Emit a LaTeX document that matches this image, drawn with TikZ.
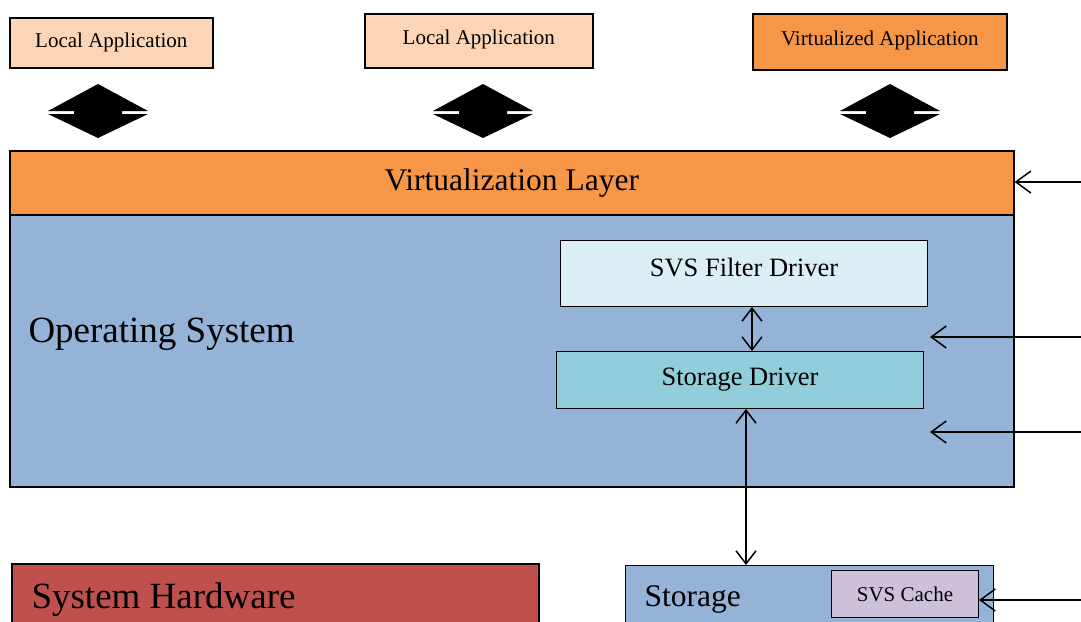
\documentclass[tikz,border=0pt]{standalone}
\usepackage{fontspec}
\setmainfont{Liberation Serif}
\usepackage{xcolor}
\usetikzlibrary{arrows.meta}
\definecolor{appfill}{HTML}{FBD5B5}
\definecolor{virtfill}{HTML}{F79646}
\definecolor{osfill}{HTML}{95B3D7}
\definecolor{filterfill}{HTML}{DBEEF3}
\definecolor{drvfill}{HTML}{92CDDC}
\definecolor{cachefill}{HTML}{CCC0DA}
\definecolor{hwfill}{HTML}{C0504D}
\tikzset{
  box/.style={draw, line width=1.6pt, inner sep=0pt, anchor=north west},
  thinbox/.style={draw, line width=1pt, inner sep=0pt, anchor=north west},
  small/.style={font=\fontsize{21}{25}\selectfont},
  mid/.style={font=\fontsize{26.5}{31}\selectfont},
  big/.style={font=\fontsize{31.5}{37}\selectfont},
  huge/.style={font=\fontsize{37}{44}\selectfont},
  link/.style={line width=1.5pt, {Straight Barb[length=13pt,width=20pt]}-{Straight Barb[length=13pt,width=20pt]}},
  feed/.style={line width=1.5pt, -{Straight Barb[length=15pt,width=22pt]}}
}
\begin{document}
\begin{tikzpicture}[x=1pt,y=-1pt]
\useasboundingbox (0,0) rectangle (1081,621);
\clip (0,0) rectangle (1081,621);

% Applications
\node[box, small, fill=appfill, minimum width=203, minimum height=50] (locA) at (9,17) {Local Application};
\node[box, small, fill=appfill, minimum width=228, minimum height=54, text depth=8pt] (locB) at (364,13) {Local Application};
\node[box, small, fill=virtfill, minimum width=254, minimum height=56, text depth=8pt] (virtA) at (752,13) {Virtualized Application};

% Block arrows between applications and layer
\foreach \cx in {98,483,890}
  \fill (\cx,84) -- (\cx+50,111) -- (\cx+24,111) -- (\cx+24,114) -- (\cx+50,114)
    -- (\cx,138) -- (\cx-50,114) -- (\cx-24,114) -- (\cx-24,111) -- (\cx-50,111) -- cycle;

% Layers
\node[box, fill=osfill, minimum width=1004, minimum height=272] (os) at (9,214) {};
\node[box, big, fill=virtfill, minimum width=1004, minimum height=64] (layer) at (9,150) {Virtualization Layer};
\node[huge, anchor=west] (oslabel) at (25,334) {Operating System};

% Drivers
\node[thinbox, mid, fill=filterfill, minimum width=367, minimum height=66, text depth=12pt] (filter) at (560,240) {SVS Filter Driver};
\node[thinbox, mid, fill=drvfill, minimum width=367, minimum height=57] (sdrv) at (556,351) {Storage Driver};

% Hardware and storage
\node[box, fill=hwfill, minimum width=527, minimum height=90] (hw) at (11,563) {};
\node[huge, anchor=west] (hwlabel) at (28,600) {System Hardware};
\node[thinbox, fill=osfill, minimum width=368, minimum height=90] (stor) at (625,565) {};
\node[big, anchor=west] (storlabel) at (641,599) {Storage};
\node[thinbox, small, fill=cachefill, minimum width=147, minimum height=47] (cache) at (831,570) {SVS Cache};

% Connectors
\draw[link] ([xshift=8pt]filter.south) -- ([xshift=8pt]filter.south |- sdrv.north);
\draw[link] ([xshift=6pt]sdrv.south) -- ([xshift=6pt]sdrv.south |- stor.north);

% Inputs from the right
\coordinate (inA) at (1081,182);
\coordinate (inB) at (1081,337);
\coordinate (inC) at (1081,432);
\coordinate (inD) at (1081,600);
\coordinate (osB) at (930,337);
\coordinate (osC) at (930,432);
\draw[feed] (inA) -- (layer.east |- inA);
\draw[feed] (inB) -- (osB);
\draw[feed] (inC) -- (osC);
\draw[feed] (inD) -- (cache.east |- inD);
\end{tikzpicture}
\end{document}
